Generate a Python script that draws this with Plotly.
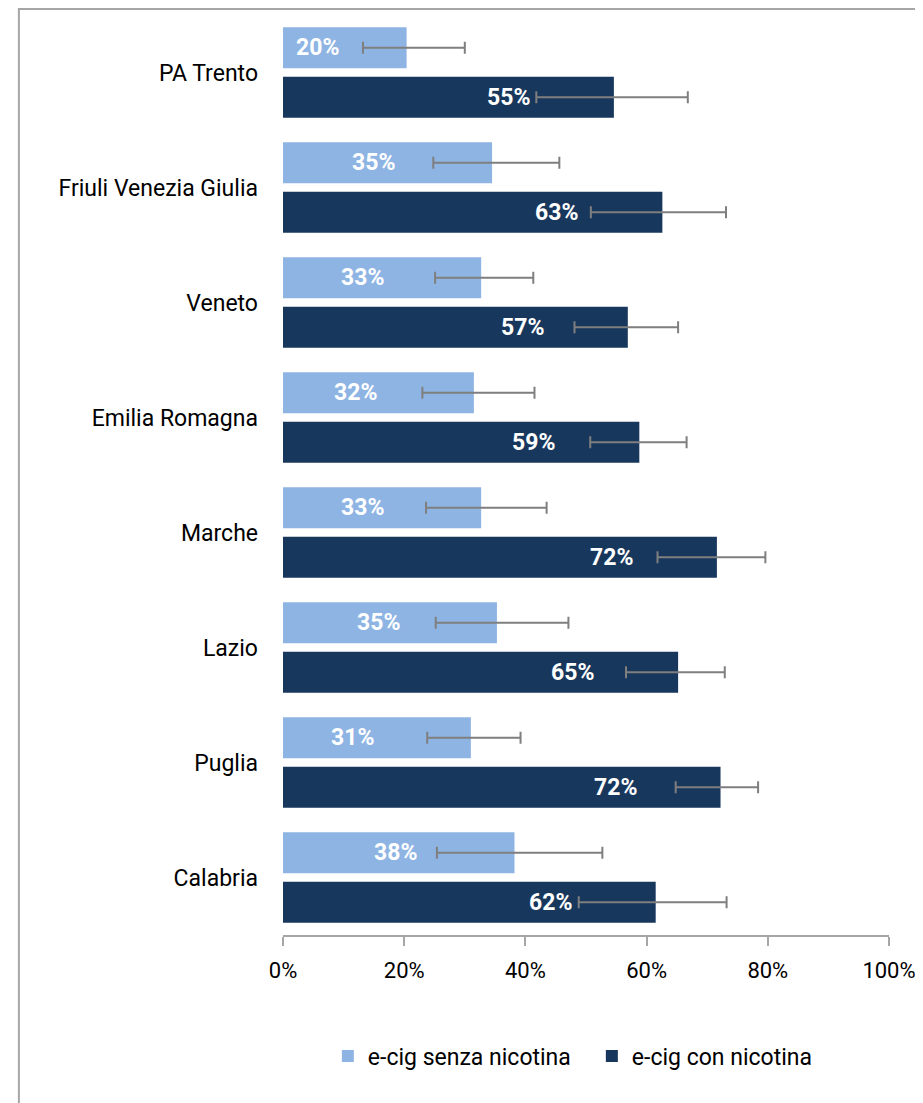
import plotly.graph_objects as go

regions = ["PA Trento", "Friuli Venezia Giulia", "Veneto", "Emilia Romagna",
           "Marche", "Lazio", "Puglia", "Calabria"]

senza_val = [20.4, 34.5, 32.7, 31.5, 32.7, 35.3, 31.0, 38.2]
senza_low = [13.2, 24.8, 25.1, 23.0, 23.6, 25.2, 23.8, 25.4]
senza_high = [30.0, 45.6, 41.3, 41.5, 43.5, 47.1, 39.2, 52.7]

con_val = [54.6, 62.6, 56.9, 58.8, 71.6, 65.2, 72.2, 61.5]
con_low = [41.8, 50.8, 48.1, 50.7, 61.8, 56.6, 64.8, 48.8]
con_high = [66.8, 73.1, 65.2, 66.6, 79.6, 72.9, 78.4, 73.2]

series_names = ["e-cig senza nicotina", "e-cig con nicotina"]
x_ticks = [0, 20, 40, 60, 80, 100]
x_ticktext = ["0%", "20%", "40%", "60%", "80%", "100%"]

LIGHT = "#8EB4E3"
DARK = "#18375D"
ERR = "#7F7F7F"
FONT = "Roboto, Liberation Sans, sans-serif"

# figure geometry (page has an 8px body margin)
W, H = 915, 1095
ML, MR, MT, MB = 275, 32, 7, 168
PW = W - ML - MR           # plot width in px
PH = H - MT - MB           # plot height in px
XMAX = 100
PX_PER_UNIT = PW / XMAX

fig = go.Figure()

def add_series(name, vals, lows, highs, color):
    fig.add_trace(go.Bar(
        y=regions, x=vals, name=name, orientation="h",
        marker=dict(color=color, line=dict(width=0)),
        error_x=dict(type="data", symmetric=False,
                     array=[h - v for h, v in zip(highs, vals)],
                     arrayminus=[v - l for v, l in zip(vals, lows)],
                     color=ERR, thickness=2, width=6),
        hoverinfo="skip",
    ))

add_series(series_names[0], senza_val, senza_low, senza_high, LIGHT)
add_series(series_names[1], con_val, con_low, con_high, DARK)

LABEL_W = 43
annotations = []
for vals, yshift, offset in [(senza_val, 24.7, 95), (con_val, -24.8, 82)]:
    for r, v in zip(regions, vals):
        shift = min(offset, v * PX_PER_UNIT - LABEL_W - 15)
        annotations.append(dict(
            x=v, y=r, xref="x", yref="y", text=f"{int(v + 0.5)}%",
            showarrow=False, xanchor="right", yanchor="middle",
            xshift=-shift, yshift=yshift,
            font=dict(family=FONT, size=23, color="white", weight="bold"),
        ))

fig.update_layout(
    width=W, height=H,
    margin=dict(l=ML, r=MR, t=MT, b=MB),
    paper_bgcolor="white", plot_bgcolor="white",
    barmode="group", bargap=0.139, bargroupgap=0.175,
    font=dict(family=FONT, size=23, color="black"),
    showlegend=True,
    legend=dict(orientation="h", x=(320 - ML) / PW, xanchor="left",
                y=-0.1315, yanchor="middle", entrywidth=219,
                font=dict(family=FONT, size=23, color="black"),
                traceorder="normal", bgcolor="rgba(0,0,0,0)"),
    annotations=annotations,
    shapes=[dict(type="rect", xref="paper", yref="paper",
                 x0=(10 - ML) / PW, x1=2, y0=-1, y1=1 + (MT - 1) / PH,
                 line=dict(color="#A6A6A6", width=2), fillcolor="rgba(0,0,0,0)",
                 layer="below")],
)

fig.update_xaxes(range=[0, XMAX], tickvals=x_ticks, ticktext=x_ticktext,
                 showgrid=False, zeroline=False,
                 showline=True, linecolor="#A6A6A6", linewidth=2,
                 ticks="outside", ticklen=9, tickwidth=2, tickcolor="#A6A6A6",
                 ticklabelstandoff=6, ticklabeloverflow="allow",
                 tickfont=dict(family=FONT, size=22, color="black"))
fig.update_yaxes(autorange="reversed", showgrid=False, zeroline=False,
                 showline=False, ticks="", ticklabelstandoff=24,
                 tickfont=dict(family=FONT, size=23, color="black"))

fig.write_html("out.html")
